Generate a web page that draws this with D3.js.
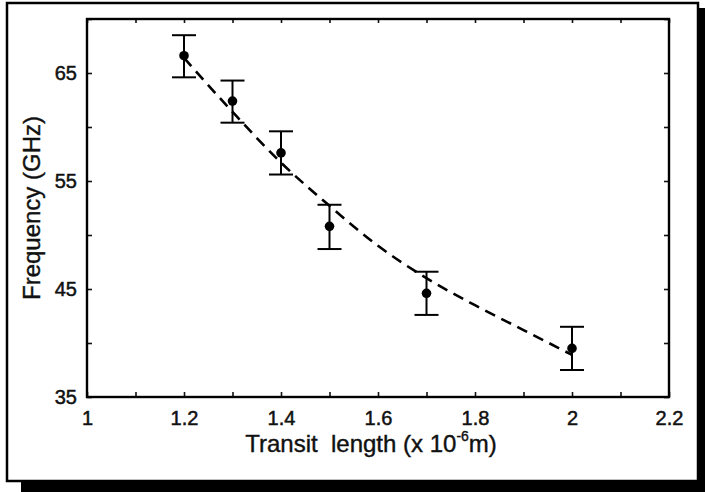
<!DOCTYPE html>
<html>
<head>
<meta charset="utf-8">
<script src="https://cdn.jsdelivr.net/npm/d3@7"></script>
<style>
  body { margin: 0; background: #fff; }
  svg { display: block; font-family: "Liberation Sans", Arial, sans-serif; }
  .axis path { display: none; }
  .axis line { stroke: #111; stroke-width: 1.6px; }
  .axis text { font-size: 20px; fill: #111; stroke: #111; stroke-width: 0.5px; }
  .title { fill: #111; stroke: #111; stroke-width: 0.4px; }
</style>
</head>
<body>
<div id="chart"></div>
<script>
// Data
const transitLength = [1.2, 1.3, 1.4, 1.5, 1.7, 2.0];
const frequency     = [66.6, 62.4, 57.6, 50.8, 44.6, 39.5];
const errUpper      = [68.5, 64.3, 59.6, 52.8, 46.6, 41.5];
const errLower      = [64.6, 60.4, 55.6, 48.7, 42.6, 37.5];

// Dashed fit curve
const fitLength = [1.2, 1.3, 1.4, 1.5, 1.6, 1.7, 1.8, 1.9, 2.0];
const fitFreq   = [66.4, 61.4, 56.7, 52.7, 49.0, 46.0, 43.5, 41.2, 38.9];

// Ticks
const xTicks      = [1.0, 1.1, 1.2, 1.3, 1.4, 1.5, 1.6, 1.7, 1.8, 1.9, 2.0, 2.1, 2.2];
const xLabelTicks = [1.0, 1.2, 1.4, 1.6, 1.8, 2.0, 2.2];
const xTickLabels = ["1", "1.2", "1.4", "1.6", "1.8", "2", "2.2"];
const yTicks      = [35, 40, 45, 50, 55, 60, 65, 70];
const yLabelTicks = [35, 45, 55, 65];

const width = 705;
const height = 492;
const plot = { left: 87, right: 669, top: 19, bottom: 397 };

const svg = d3.select("#chart")
  .append("svg")
    .attr("width", width)
    .attr("height", height);

// Page frame with shadow
svg.append("rect")
  .attr("x", 21).attr("y", 481).attr("width", 684).attr("height", 11)
  .attr("fill", "#000");
svg.append("rect")
  .attr("x", 698).attr("y", 8).attr("width", 7).attr("height", 484)
  .attr("fill", "#000");
svg.append("rect")
  .attr("x", 7).attr("y", 3).attr("width", 691).attr("height", 478)
  .attr("fill", "#fff")
  .attr("stroke", "#000")
  .attr("stroke-width", 2.5);

// Scales
const x = d3.scaleLinear().domain([1, 2.2]).range([plot.left, plot.right]);
const y = d3.scaleLinear().domain([35, 70]).range([plot.bottom, plot.top]);

// Axes (ticks point inward)
const labelFor = d => {
  const i = xLabelTicks.findIndex(v => Math.abs(v - d) < 1e-9);
  return i >= 0 ? xTickLabels[i] : "";
};

svg.append("g")
  .attr("class", "axis")
  .attr("transform", `translate(0,${plot.bottom})`)
  .call(d3.axisBottom(x).tickValues(xTicks).tickSize(-5).tickPadding(14).tickFormat(labelFor));

svg.append("g")
  .attr("class", "axis")
  .attr("transform", `translate(0,${plot.top})`)
  .call(d3.axisTop(x).tickValues(xTicks).tickSize(-4).tickFormat(""));

svg.append("g")
  .attr("class", "axis")
  .attr("transform", `translate(${plot.left},0)`)
  .call(d3.axisLeft(y).tickValues(yTicks).tickSize(-5).tickPadding(10)
    .tickFormat(d => yLabelTicks.includes(d) ? d : ""));

svg.append("g")
  .attr("class", "axis")
  .attr("transform", `translate(${plot.right},0)`)
  .call(d3.axisRight(y).tickValues(yTicks).tickSize(-5).tickFormat(""));

// Plot frame
svg.append("rect")
  .attr("x", plot.left)
  .attr("y", plot.top)
  .attr("width", plot.right - plot.left)
  .attr("height", plot.bottom - plot.top)
  .attr("fill", "none")
  .attr("stroke", "#000")
  .attr("stroke-width", 2.4);

// Dashed fit
const line = d3.line()
  .x((d, i) => x(fitLength[i]))
  .y(d => y(d))
  .curve(d3.curveMonotoneX);

svg.append("path")
  .attr("d", line(fitFreq))
  .attr("fill", "none")
  .attr("stroke", "#000")
  .attr("stroke-width", 2.6)
  .attr("stroke-dasharray", "11,7");

// Error bars
const points = transitLength.map((L, i) => ({
  L, f: frequency[i], hi: errUpper[i], lo: errLower[i]
}));
const capHalf = 12;

const bars = svg.selectAll(".err")
  .data(points)
  .join("g")
    .attr("class", "err")
    .attr("stroke", "#000")
    .attr("stroke-width", 2);

bars.append("line")
  .attr("x1", d => x(d.L)).attr("x2", d => x(d.L))
  .attr("y1", d => y(d.hi)).attr("y2", d => y(d.lo));
bars.append("line")
  .attr("x1", d => x(d.L) - capHalf).attr("x2", d => x(d.L) + capHalf)
  .attr("y1", d => y(d.hi)).attr("y2", d => y(d.hi));
bars.append("line")
  .attr("x1", d => x(d.L) - capHalf).attr("x2", d => x(d.L) + capHalf)
  .attr("y1", d => y(d.lo)).attr("y2", d => y(d.lo));

// Points
svg.selectAll(".pt")
  .data(points)
  .join("circle")
    .attr("class", "pt")
    .attr("cx", d => x(d.L))
    .attr("cy", d => y(d.f))
    .attr("r", 4.8)
    .attr("fill", "#000");

// Axis titles
svg.append("text")
  .attr("class", "title")
  .attr("transform", `translate(40,208) rotate(-90)`)
  .attr("text-anchor", "middle")
  .style("font-size", "24px")
  .text("Frequency (GHz)");

const xTitle = svg.append("text")
  .attr("class", "title")
  .attr("x", 371)
  .attr("y", 452)
  .attr("text-anchor", "middle")
  .style("font-size", "24px")
  .style("white-space", "pre");
xTitle.append("tspan").text("Transit  length (x 10");
xTitle.append("tspan").attr("dy", -11).style("font-size", "14px").text("-6");
xTitle.append("tspan").attr("dy", 11).text("m)");
</script>
</body>
</html>
